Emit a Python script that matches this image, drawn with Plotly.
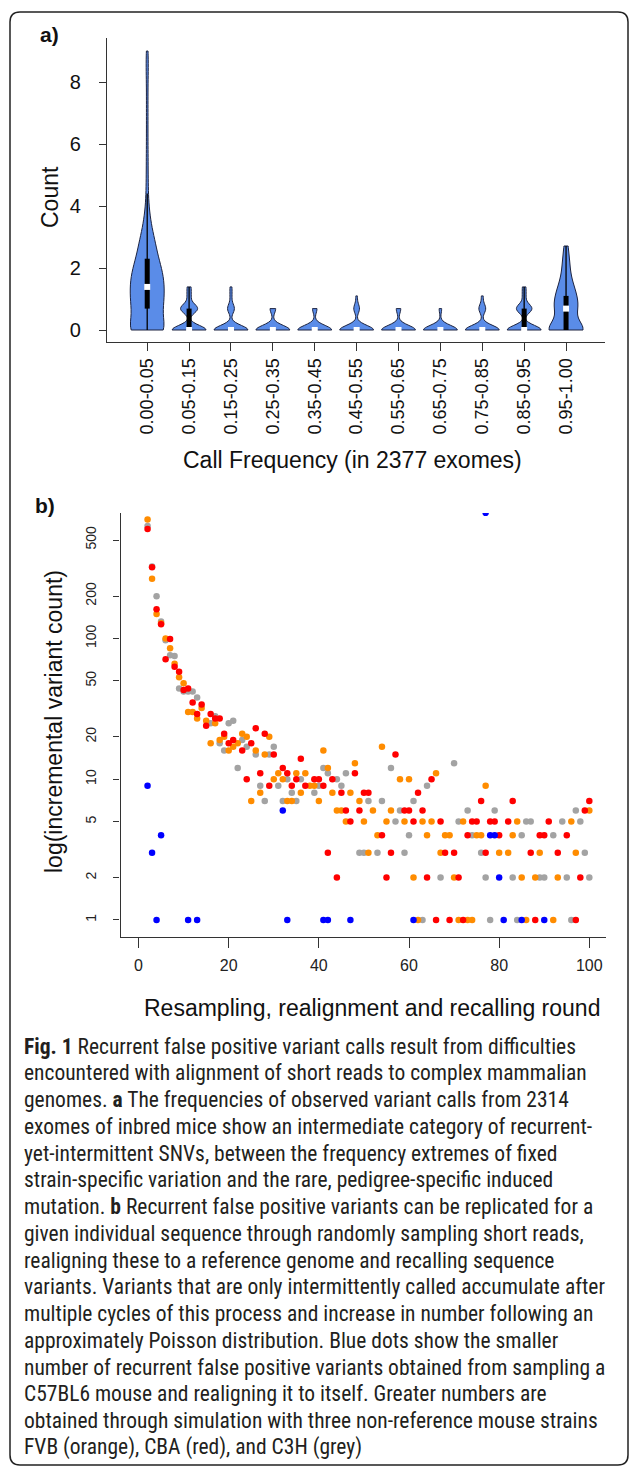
import numpy as np
import plotly.graph_objects as go

W, H = 630, 1468

# ---------------- Panel a data (log call counts per frequency bin) ----------------
categories = ["0.00-0.05", "0.05-0.15", "0.15-0.25", "0.25-0.35", "0.35-0.45", "0.45-0.55",
              "0.55-0.65", "0.65-0.75", "0.75-0.85", "0.85-0.95", "0.95-1.00"]
y_ticks_a = [0, 2, 4, 6, 8]

v1_levels = [0.0, 0.69, 1.10, 1.39, 1.61, 1.79, 1.95, 2.08, 2.20, 2.30, 2.50, 2.64, 2.77, 2.90, 3.00,
             3.20, 3.40, 3.70, 4.00, 4.40, 4.80, 5.30, 5.80, 6.40, 7.00, 7.60, 8.20, 8.60, 9.00]
v1_counts = [30, 18, 12, 10, 7, 6, 5, 4, 3, 3, 3, 3, 3, 2, 2, 2, 2, 2, 1, 1, 1, 1, 1, 1, 1, 1, 1, 1, 1]

small_levels = [0.0, 0.69, 1.10, 1.39]
c_005_015 = [10, 5, 1, 1]
c_015_025 = [20, 4, 1, 1]
c_025_035 = [24, 4, 0, 0]
c_035_045 = [30, 4, 0, 0]
c_045_055 = [24, 4, 1, 0]
c_055_065 = [30, 4, 0, 0]
c_065_075 = [40, 3, 0, 0]
c_075_085 = [20, 4, 1, 0]
c_085_095 = [11, 5, 1, 1]

v11_levels = [0.0, 0.69, 1.10, 1.39, 1.61, 1.79, 2.08, 2.30, 2.71]
v11_counts = [12, 6, 4, 2, 1, 1, 1, 1, 1]

# ---------------- Panel b data (incremental variant count per round) ----------------
orange_round = [2, 3, 4, 5, 6, 7, 8, 9, 10, 11,
                12, 13, 14, 15, 16, 17, 18, 19, 20, 21,
                22, 23, 24, 25, 26, 27, 28, 29, 30, 31,
                32, 33, 34, 35, 36, 37, 38, 39, 40, 41,
                42, 43, 44, 45, 46, 47, 48, 49, 50, 51,
                52, 53, 54, 55, 56,
                58, 59, 60, 61, 62, 63, 64, 65, 66, 67,
                68, 69, 70, 71, 72, 73, 74, 75, 76, 77,
                80, 82, 83, 84, 85, 86, 88, 89, 92, 93, 96, 97, 100]
orange_count = [700, 265, 149, 128, 100, 85, 66, 53, 48, 30,
                30, 27, 32, 26, 18, 25, 19, 20, 16, 17,
                18, 21, 20, 7, 16, 8, 15, 20, 10, 11,
                10, 7, 7, 11, 8, 11, 9, 9, 7, 16,
                12, 8, 6, 6, 5, 8, 13, 7, 5, 3,
                6, 4, 17, 5, 6,
                10, 5, 10, 2, 1, 5, 4, 5, 11, 3,
                4, 4, 2, 1, 5, 1, 1, 4, 4, 9,
                3, 3, 4, 5, 2, 1, 2, 3, 1, 2, 5, 3, 6]

red_round = [2, 3, 4, 5, 6, 7, 8, 9, 10, 11,
             12, 13, 14, 15, 16, 17, 18, 19, 20, 21,
             23, 24, 25, 26, 27, 28, 29, 30, 32, 33,
             34, 35, 36, 37, 39, 40, 41, 42, 43, 44,
             45, 46, 47, 48, 49, 50, 51, 54, 55, 56,
             57, 59, 60, 61, 62, 63, 64, 65, 66, 67,
             68, 69, 70, 71, 72, 73, 74, 75, 76, 77,
             78, 79, 80, 82, 83, 87, 88, 89, 90, 91,
             93, 95, 97, 98, 99, 100]
red_count = [600, 320, 161, 126, 71, 99, 63, 58, 43, 44,
             35, 29, 34, 24, 29, 27, 27, 21, 18, 19,
             16, 10, 18, 23, 11, 21, 9, 15, 12, 11,
             9, 10, 14, 9, 10, 10, 9, 3, 10, 2,
             8, 6, 5, 11, 6, 8, 8, 4, 2, 3,
             15, 6, 6, 5, 8, 6, 2, 10, 1, 5,
             3, 1, 3, 2, 1, 4, 5, 5, 7, 3,
             5, 5, 4, 5, 7, 3, 1, 4, 4, 5,
             3, 4, 1, 2, 6, 7]

grey_round = [2, 3, 4, 5, 6, 7, 8, 9, 10, 11,
              12, 13, 16, 17, 18, 19, 20, 21, 22, 23,
              24, 26, 27, 28, 29, 30, 31, 32, 33, 34,
              35, 36, 39, 40, 41, 42, 44, 45, 46, 49,
              50, 51, 53, 54, 56, 57, 58, 59, 60, 61,
              63, 64, 67, 70, 71, 73, 74, 76, 77, 78,
              79, 83, 84, 85, 86, 87, 89, 90, 92, 94,
              95, 96, 97, 98, 99, 100]
grey_count = [630, 324, 199, 132, 97, 76, 75, 44, 42, 42,
              42, 38, 25, 28, 18, 16, 25, 26, 12, 19,
              17, 15, 9, 7, 15, 17, 9, 7, 10, 8,
              7, 10, 8, 9, 12, 11, 10, 9, 11, 3,
              3, 7, 3, 7, 12, 5, 6, 3, 4, 7,
              1, 9, 2, 13, 5, 6, 4, 3, 2, 1,
              6, 2, 1, 4, 5, 5, 2, 2, 4, 5,
              2, 1, 6, 5, 3, 2]

blue_round = [2, 3, 4, 5, 11, 13, 32, 33, 41, 42, 47, 61, 77, 78, 79, 80, 81, 85, 90]
blue_count = [9, 3, 1, 4, 1, 1, 6, 1, 1, 1, 1, 1, 780, 4, 4, 2, 1, 1, 1]

x_ticks_b = [0, 20, 40, 60, 80, 100]
y_ticks_b = [1, 2, 5, 10, 20, 50, 100, 200, 500]

caption_lines = [
    "<b>Fig. 1</b> Recurrent false positive variant calls result from difficulties",
    "encountered with alignment of short reads to complex mammalian",
    "genomes. <b>a</b> The frequencies of observed variant calls from 2314",
    "exomes of inbred mice show an intermediate category of recurrent-",
    "yet-intermittent SNVs, between the frequency extremes of fixed",
    "strain-specific variation and the rare, pedigree-specific induced",
    "mutation. <b>b</b> Recurrent false positive variants can be replicated for a",
    "given individual sequence through randomly sampling short reads,",
    "realigning these to a reference genome and recalling sequence",
    "variants. Variants that are only intermittently called accumulate after",
    "multiple cycles of this process and increase in number following an",
    "approximately Poisson distribution. Blue dots show the smaller",
    "number of recurrent false positive variants obtained from sampling a",
    "C57BL6 mouse and realigning it to itself. Greater numbers are",
    "obtained through simulation with three non-reference mouse strains",
    "FVB (orange), CBA (red), and C3H (grey)",
]

# ---------------- build samples ----------------
samples = [np.repeat(v1_levels, v1_counts)]
for c in [c_005_015, c_015_025, c_025_035, c_035_045, c_045_055,
          c_055_065, c_065_075, c_075_085, c_085_095]:
    samples.append(np.repeat(small_levels, c))
samples.append(np.repeat(v11_levels, v11_counts))
bandwidths = [0.4, 0.15, 0.15, 0.15, 0.15, 0.15, 0.15, 0.15, 0.15, 0.15, 0.3]

VIOLIN_FILL = "#5a8ce8"
VIOLIN_LINE = "#1c2340"
AX = "#333333"
FONT = "Liberation Sans, Arial, sans-serif"

fig = go.Figure()

for cat, s, bw in zip(categories, samples, bandwidths):
    fig.add_trace(go.Violin(
        x=[cat] * len(s), y=s, xaxis="x", yaxis="y",
        width=0.81, scalemode="width", spanmode="hard", bandwidth=bw,
        points=False, box_visible=False, meanline_visible=False,
        fillcolor=VIOLIN_FILL, line=dict(color=VIOLIN_LINE, width=1),
        opacity=1, hoverinfo="skip", showlegend=False))

# inner boxplots (whisker, box, median)
wx, wy, bx, by, mx, my = [], [], [], [], [], []
for cat, s in zip(categories, samples):
    q1, med, q3 = np.percentile(s, [25, 50, 75])
    iqr = q3 - q1
    lo = s[s >= q1 - 1.5 * iqr].min()
    hi = s[s <= q3 + 1.5 * iqr].max()
    wx += [cat, cat, None]; wy += [lo, hi, None]
    bx += [cat, cat, None]; by += [q1, q3, None]
    mx.append(cat); my.append(med)

fig.add_trace(go.Scatter(x=wx, y=wy, xaxis="x", yaxis="y", mode="lines",
                         line=dict(color="black", width=1.3), hoverinfo="skip", showlegend=False))
fig.add_trace(go.Scatter(x=bx, y=by, xaxis="x", yaxis="y", mode="lines",
                         line=dict(color="black", width=5), hoverinfo="skip", showlegend=False))
fig.add_trace(go.Scatter(x=mx, y=my, xaxis="x", yaxis="y", mode="markers",
                         marker=dict(color="white", size=6, symbol="square"),
                         hoverinfo="skip", showlegend=False))

# panel b points
for rx, ry, col in [(grey_round, grey_count, "#a3a3a3"),
                    (orange_round, orange_count, "#ff8c00"),
                    (red_round, red_count, "#ff0000"),
                    (blue_round, blue_count, "#0000ff")]:
    fig.add_trace(go.Scatter(x=rx, y=ry, xaxis="x2", yaxis="y2", mode="markers",
                             marker=dict(color=col, size=6.5, line=dict(width=0)),
                             hoverinfo="skip", showlegend=False))


def px_x(x):
    return x / W


def px_y(y):
    return 1 - y / H


fig.update_layout(
    width=W, height=H, margin=dict(l=0, r=0, t=0, b=0),
    paper_bgcolor="white", plot_bgcolor="white",
    violinmode="overlay",
    font=dict(family=FONT, color="#111111"),
    xaxis=dict(domain=[px_x(107), px_x(605)], anchor="y", type="category",
               categoryorder="array", categoryarray=categories,
               range=[-0.96, 10.93], showline=True, linecolor=AX, linewidth=1.3,
               ticks="outside", ticklen=8, tickcolor=AX, tickwidth=1.3,
               tickangle=-90, tickfont=dict(size=18, family=FONT, color="#111111"),
               showgrid=False, zeroline=False, fixedrange=True),
    yaxis=dict(domain=[px_y(342), px_y(38)], anchor="x",
               range=[-0.387, 9.42], tickvals=y_ticks_a,
               ticktext=[str(v) for v in y_ticks_a],
               showline=True, linecolor=AX, linewidth=1.3,
               ticks="outside", ticklen=7, tickcolor=AX, tickwidth=1.3,
               ticklabelstandoff=14,
               tickfont=dict(size=20, family=FONT, color="#111111"),
               showgrid=False, zeroline=False),
    xaxis2=dict(domain=[px_x(120.5), px_x(606)], anchor="y2",
                range=[-4.0, 103.7], tickvals=x_ticks_b,
                ticktext=[str(v) for v in x_ticks_b],
                showline=True, linecolor=AX, linewidth=1.3,
                ticks="outside", ticklen=10, tickcolor=AX, tickwidth=1.3,
                ticklabelstandoff=4,
                tickfont=dict(size=16, family=FONT, color="#222222"),
                showgrid=False, zeroline=False),
    yaxis2=dict(domain=[px_y(937), px_y(513)], anchor="x2", type="log",
                range=[-0.121, 2.891], tickvals=y_ticks_b,
                ticktext=[str(v) for v in y_ticks_b], tickangle=-90,
                showline=True, linecolor=AX, linewidth=1.3,
                ticks="outside", ticklen=6, tickcolor=AX, tickwidth=1.3,
                ticklabelstandoff=12,
                tickfont=dict(size=14, family=FONT, color="#222222"),
                showgrid=False, zeroline=False),
)

ann = []


def add_text(text, x, y, size, angle=0, xanchor="center", bold=False, family=FONT, color="#111111"):
    ann.append(dict(text=text, x=px_x(x), y=px_y(y), xref="paper", yref="paper",
                    xanchor=xanchor, yanchor="middle", showarrow=False, textangle=angle,
                    font=dict(size=size, family=family, color=color)))


add_text("<b>a)</b>", 49, 35, 21)
add_text("<b>b)</b>", 45, 505, 21)
add_text("Count", 50, 197, 23, angle=-90)
add_text("Call Frequency (in 2377 exomes)", 352, 460, 23)
add_text("log(incremental variant count)", 54, 722, 23, angle=-90)
add_text("Resampling, realignment and recalling round", 372, 1008, 23)

CAP_FONT = "Liberation Sans Narrow, Roboto Condensed, Roboto, sans-serif"
for i, line in enumerate(caption_lines):
    add_text(line, 22, 1046 + 26.75 * i, 21.5, xanchor="left", family=CAP_FONT, color="#231f20")

fig.update_layout(annotations=ann)

# rounded border around the whole figure
x0, y0, x1, y1, r = 10, 12, 628, 1465, 10


def P(x, y):
    return f"{px_x(x):.5f},{px_y(y):.5f}"


path = (f"M {P(x0 + r, y0)} L {P(x1 - r, y0)} Q {P(x1, y0)} {P(x1, y0 + r)} "
        f"L {P(x1, y1 - r)} Q {P(x1, y1)} {P(x1 - r, y1)} "
        f"L {P(x0 + r, y1)} Q {P(x0, y1)} {P(x0, y1 - r)} "
        f"L {P(x0, y0 + r)} Q {P(x0, y0)} {P(x0 + r, y0)} Z")
fig.add_shape(type="path", path=path, xref="paper", yref="paper",
              line=dict(color="#222222", width=1.5), fillcolor="rgba(0,0,0,0)")

fig.write_html("out.html", config={"displayModeBar": False},
               post_script="document.body.style.margin='0px';")
